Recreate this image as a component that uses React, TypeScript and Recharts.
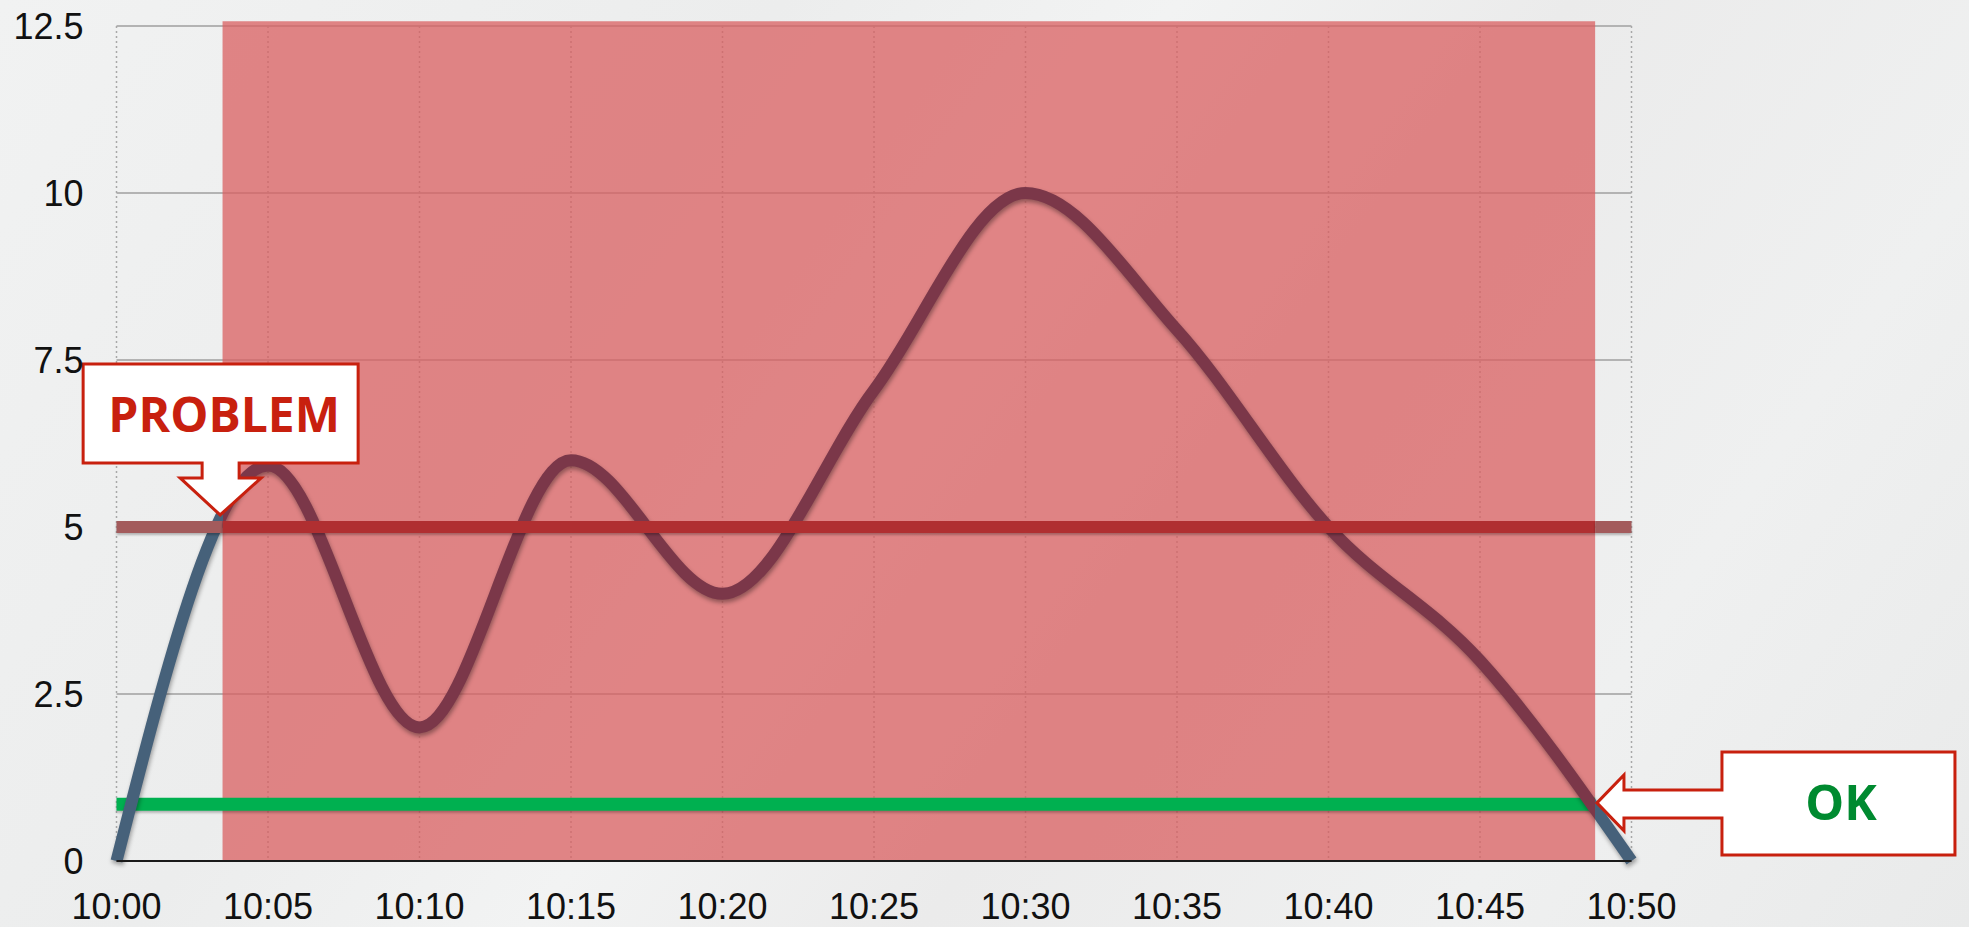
import React from 'react';
import {
  LineChart,
  Line,
  XAxis,
  YAxis,
  CartesianGrid,
  ReferenceArea,
  ReferenceLine,
  ReferenceDot,
} from 'recharts';

// ---- data ----
const minutes = [0, 5, 10, 15, 20, 25, 30, 35, 40, 45, 50];
const timeLabels = ['10:00', '10:05', '10:10', '10:15', '10:20', '10:25', '10:30', '10:35', '10:40', '10:45', '10:50'];
const values = [0, 5.92, 2, 6, 4, 7.05, 10, 7.95, 5, 3.0, 0];
const yTicks = [0, 2.5, 5, 7.5, 10, 12.5];

const problemThreshold = 5;
const okThreshold = 0.85;
const alarmStart = 3.5; // minutes after 10:00
const alarmEnd = 48.8;
const alarmTop = 12.57;
const problemTip = { x: 3.42, y: 5.18 };
const okTip = { x: 48.86, y: 0.87 };

const data = minutes.map((t, i) => ({ t, v: values[i] }));
const X_MAX = minutes[minutes.length - 1];

const BLUE = '#46617a';
const MAROON = '#7b3749';
const RED_MUTED = '#a35b5c';
const RED = '#b02f31';
const GREEN = '#00b050';
const CALLOUT_RED = '#c8200e';

const ProblemCallout = (props: any) => {
  const { cx, cy } = props;
  const pts = [
    [-137, -151], [138, -151], [138, -52], [19, -52], [19, -37], [41, -37], [0, 0],
    [-40, -37], [-18, -37], [-18, -52], [-137, -52],
  ]
    .map(([dx, dy]) => `${cx + dx},${cy + dy}`)
    .join(' ');
  return (
    <g>
      <polygon points={pts} fill="#ffffff" stroke={CALLOUT_RED} strokeWidth={3} strokeLinejoin="miter" />
      <text
        x={cx + 4}
        y={cy - 83}
        textAnchor="middle"
        fontFamily="'Open Sans', 'Noto Sans', sans-serif"
        fontWeight={700}
        fontSize={48}
        fill={CALLOUT_RED}
      >
        PROBLEM
      </text>
    </g>
  );
};

const OkCallout = (props: any) => {
  const { cx, cy } = props;
  const pts = [
    [0, 0], [27, -28], [27, -13], [125, -13], [125, -51], [358, -51], [358, 52],
    [125, 52], [125, 15], [27, 15], [27, 28],
  ]
    .map(([dx, dy]) => `${cx + dx},${cy + dy}`)
    .join(' ');
  return (
    <g>
      <polygon points={pts} fill="#ffffff" stroke={CALLOUT_RED} strokeWidth={3} strokeLinejoin="miter" />
      <text
        x={cx + 244}
        y={cy + 17}
        textAnchor="middle"
        fontFamily="'Open Sans', 'Noto Sans', sans-serif"
        fontWeight={700}
        fontSize={49}
        fill="#008a30"
      >
        OK
      </text>
    </g>
  );
};

export default function App() {
  const a = alarmStart / X_MAX;
  const b = alarmEnd / X_MAX;
  const tickFont = { fontFamily: "'Liberation Sans', Arial, sans-serif", fontSize: 36, fill: '#111' };
  return (
    <div
      style={{
        position: 'fixed',
        left: 0,
        top: 0,
        width: 1969,
        height: 927,
        overflow: 'hidden',
        background:
          'linear-gradient(125deg, #f1f2f2 0%, #eceded 30%, #f2f3f3 45%, #ebebeb 60%, #eff0f0 80%, #e9eaea 100%)',
      }}
    >
      <style>{`
        .main-curve .recharts-line-curve { filter: drop-shadow(1px 3px 2px rgba(0,0,0,0.35)); }
        .recharts-reference-line-line { filter: drop-shadow(0px 2px 1px rgba(0,0,0,0.25)); }
      `}</style>
      <LineChart
        width={1969}
        height={927}
        data={data}
        margin={{ top: 26, right: 337.5, bottom: 0, left: 16.5 }}
      >
        <defs>
          <linearGradient id="curveGrad" x1="0" y1="0" x2="1" y2="0">
            <stop offset={0} stopColor={BLUE} />
            <stop offset={a} stopColor={BLUE} />
            <stop offset={a} stopColor={MAROON} />
            <stop offset={b} stopColor={MAROON} />
            <stop offset={b} stopColor={BLUE} />
            <stop offset={1} stopColor={BLUE} />
          </linearGradient>
        </defs>
        <CartesianGrid horizontal={true} vertical={false} stroke="#b3b3b3" strokeWidth={2} />
        <CartesianGrid horizontal={false} vertical={true} stroke="#a8a8a8" strokeWidth={1.5} strokeDasharray="2 3" />
        <XAxis
          dataKey="t"
          type="number"
          domain={[0, X_MAX]}
          ticks={minutes}
          tickFormatter={(v: number) => timeLabels[minutes.indexOf(v)]}
          tickSize={0}
          tickMargin={32}
          height={66}
          axisLine={{ stroke: '#1a1a1a', strokeWidth: 2 }}
          tickLine={false}
          tick={tickFont}
          interval={0}
        />
        <YAxis
          type="number"
          domain={[0, 12.5]}
          ticks={yTicks}
          width={100}
          tickSize={0}
          tickMargin={33}
          axisLine={false}
          tickLine={false}
          tick={tickFont}
          interval={0}
        />
        <ReferenceArea
          x1={alarmStart}
          x2={alarmEnd}
          y1={0}
          y2={alarmTop}
          fill="#da5f60"
          fillOpacity={0.75}
          stroke="none"
          ifOverflow="visible"
        />
        <ReferenceLine
          segment={[{ x: 0, y: okThreshold }, { x: alarmEnd, y: okThreshold }]}
          stroke={GREEN}
          strokeWidth={13}
          ifOverflow="visible"
        />
        <Line
          className="main-curve"
          type="monotone"
          dataKey="v"
          stroke="url(#curveGrad)"
          strokeWidth={12}
          dot={false}
          activeDot={false}
          isAnimationActive={false}
        />
        <ReferenceLine
          segment={[{ x: 0, y: problemThreshold }, { x: alarmStart, y: problemThreshold }]}
          stroke={RED_MUTED}
          strokeWidth={12}
          ifOverflow="visible"
        />
        <ReferenceLine
          segment={[{ x: alarmStart, y: problemThreshold }, { x: alarmEnd, y: problemThreshold }]}
          stroke={RED}
          strokeWidth={12}
          ifOverflow="visible"
        />
        <ReferenceLine
          segment={[{ x: alarmEnd, y: problemThreshold }, { x: X_MAX, y: problemThreshold }]}
          stroke={RED_MUTED}
          strokeWidth={12}
          ifOverflow="visible"
        />
        <ReferenceDot x={problemTip.x} y={problemTip.y} r={0} ifOverflow="visible" shape={ProblemCallout} />
        <ReferenceDot x={okTip.x} y={okTip.y} r={0} ifOverflow="visible" shape={OkCallout} />
      </LineChart>
    </div>
  );
}
